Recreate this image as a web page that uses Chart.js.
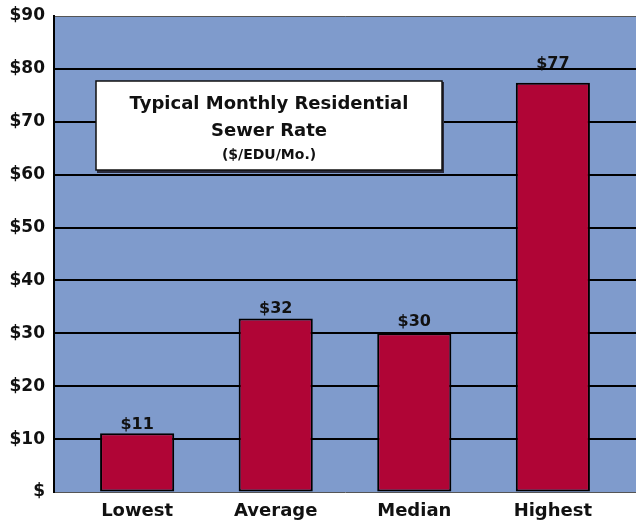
<!DOCTYPE html>
<html><head><meta charset="utf-8">
<script src="https://cdn.jsdelivr.net/npm/chart.js@4"></script>
<style>html,body{margin:0;padding:0;background:#fff}#wrap{width:636px;height:525px;position:relative}</style>
</head><body><div id="wrap"><canvas id="c"></canvas></div>
<script>
const categories = ['Lowest', 'Average', 'Median', 'Highest'];
const rates = [11.1, 32.8, 30.0, 77.4];
const rateLabels = ['$11', '$32', '$30', '$77'];
const yTickValues = [0, 10, 20, 30, 40, 50, 60, 70, 80, 90];
const titleLines = ['Typical Monthly Residential', 'Sewer Rate', '($/EDU/Mo.)'];

const FONT = '"DejaVu Sans", "Liberation Sans", Arial, sans-serif';

const bgPlugin = {
  id: 'bg',
  beforeDraw(chart) {
    const {ctx, chartArea: a} = chart;
    ctx.save();
    ctx.fillStyle = '#7F9BCC';
    ctx.fillRect(a.left, a.top, a.right - a.left, a.bottom - a.top);
    ctx.restore();
  }
};

const labelGaps = [4, 6, 7, 15];

const labelPlugin = {
  id: 'labels',
  afterDatasetsDraw(chart) {
    const ctx = chart.ctx;
    const meta = chart.getDatasetMeta(0);
    ctx.save();
    ctx.fillStyle = '#111';
    ctx.font = 'bold 16px ' + FONT;
    ctx.textAlign = 'center';
    ctx.textBaseline = 'alphabetic';
    meta.data.forEach((bar, i) => {
      ctx.fillText(rateLabels[i], bar.x, bar.y - labelGaps[i]);
    });
    // title box
    const a = chart.chartArea;
    const bx = a.left + 42, by = a.top + 65, bw = 346, bh = 89;
    ctx.fillStyle = '#2a2a3a';
    ctx.fillRect(bx + 1, by + 1, bw + 1, bh + 2);
    ctx.fillStyle = '#fff';
    ctx.fillRect(bx, by, bw, bh);
    ctx.strokeStyle = '#111';
    ctx.lineWidth = 1.5;
    ctx.strokeRect(bx, by, bw, bh);
    ctx.fillStyle = '#111';
    ctx.textBaseline = 'middle';
    const cx = bx + bw / 2;
    ctx.font = 'bold 18px ' + FONT;
    ctx.fillText(titleLines[0], cx, by + 23);
    ctx.fillText(titleLines[1], cx, by + 50);
    ctx.font = 'bold 14px ' + FONT;
    ctx.fillText(titleLines[2], cx, by + 74);
    ctx.restore();
  }
};

new Chart(document.getElementById('c'), {
  type: 'bar',
  data: {
    datasets: [{
      data: rates.map((v, i) => ({x: i, y: v})),
      backgroundColor: '#B00536',
      borderColor: '#000',
      borderWidth: 2,
      borderSkipped: false,
      barPercentage: 0.535,
      categoryPercentage: 1
    }]
  },
  options: {
    responsive: true,
    maintainAspectRatio: false,
    animation: false,
    layout: {padding: {top: 16, right: 0, left: 0, bottom: 0}},
    plugins: {legend: {display: false}, tooltip: {enabled: false}},
    scales: {
      x: {
        type: 'linear',
        offset: false,
        min: -0.6, max: 3.6,
        afterBuildTicks(s) { s.ticks = categories.map((c, i) => ({value: i})); },
        afterFit(s) { s.height = 33; },
        grid: {display: false, drawTicks: false},
        border: {display: false},
        ticks: {
          callback: v => categories[v] ?? '',
          color: '#111',
          font: {family: FONT, size: 18, weight: 'bold'},
          padding: 9,
          maxRotation: 0,
          autoSkip: false
        }
      },
      y: {
        min: 0, max: 90,
        afterBuildTicks(s) { s.ticks = yTickValues.map(v => ({value: v})); },
        afterFit(s) { s.width = 54; s.paddingTop = 0; s.paddingBottom = 0; },
        grid: {
          drawTicks: false,
          color: c => (c.tick && (c.tick.value === 0 || c.tick.value === 90)) ? '#555' : '#000',
          lineWidth: c => (c.tick && (c.tick.value === 0 || c.tick.value === 90)) ? 1 : 2
        },
        border: {display: true, color: '#000', width: 2},
        ticks: {
          callback: v => v === 0 ? '$' : '$' + v,
          color: '#111',
          font: {family: FONT, size: 17, weight: 'bold', lineHeight: 1},
          padding: 9
        }
      }
    }
  },
  plugins: [bgPlugin, labelPlugin]
});
</script>
</body></html>
